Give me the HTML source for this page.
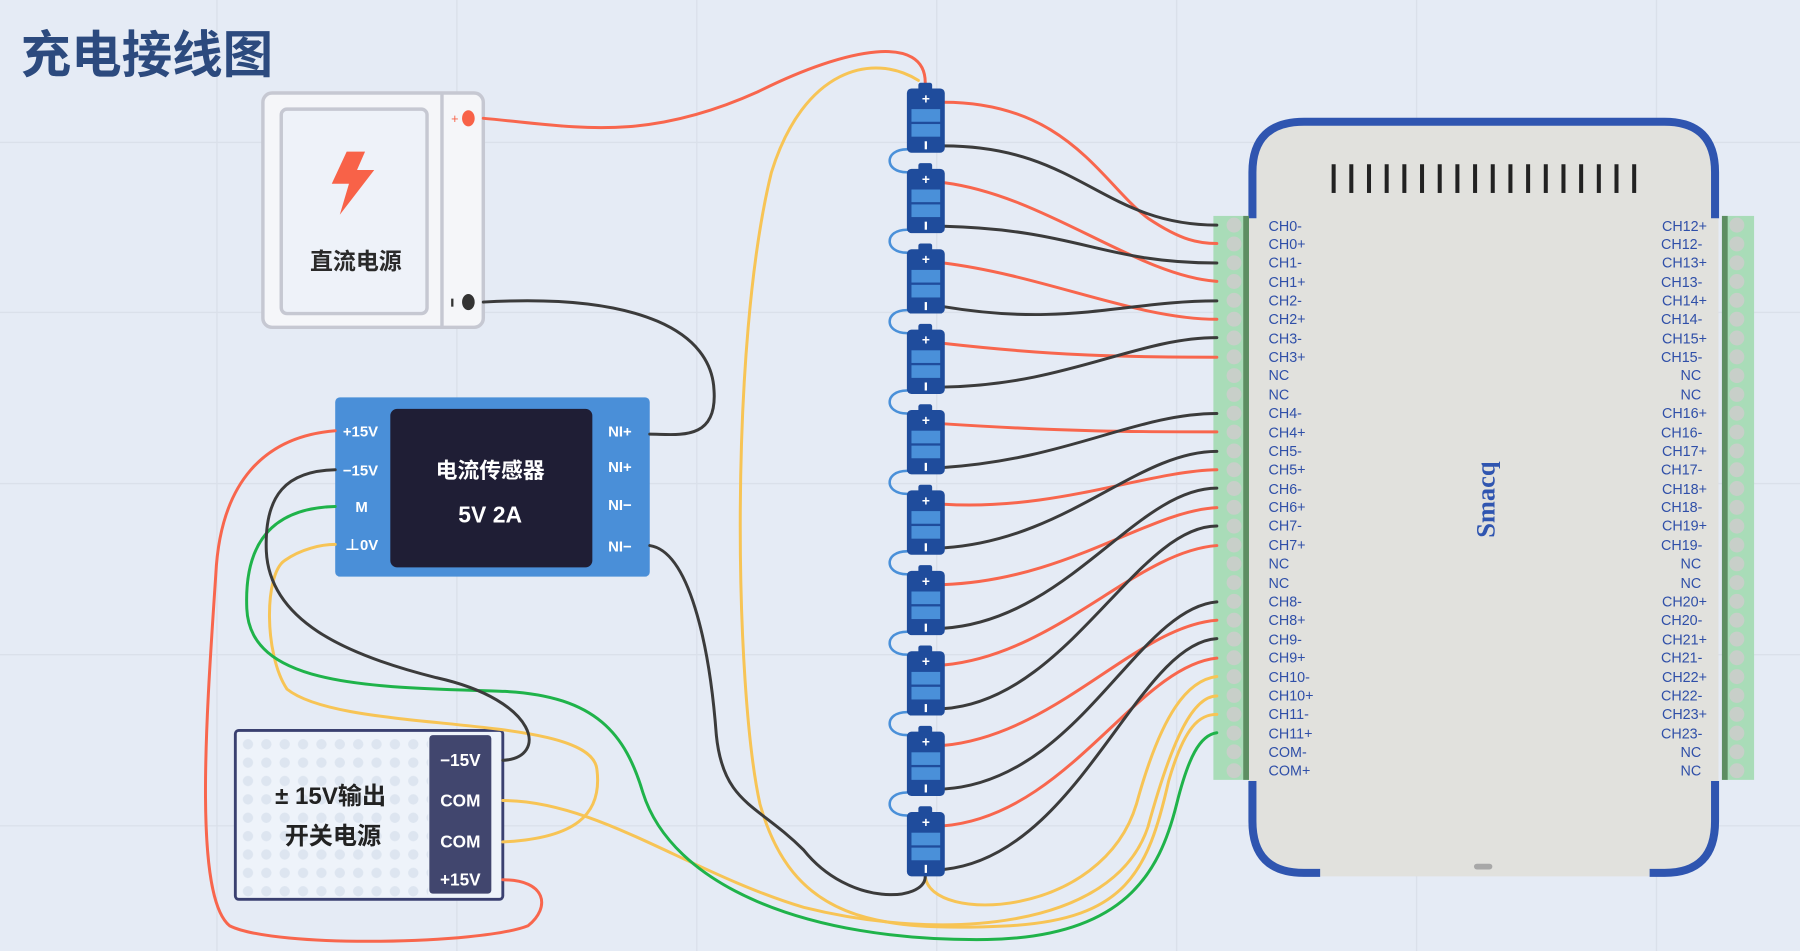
<!DOCTYPE html>
<html><head><meta charset="utf-8">
<style>
html,body{margin:0;padding:0;background:#e5ebf5;}
svg{display:block;}
text{font-family:"Liberation Sans","Noto Sans CJK SC",sans-serif;}
</style></head><body>
<svg width="1800" height="951" viewBox="0 0 1568 828" preserveAspectRatio="none" xmlns="http://www.w3.org/2000/svg">
<defs>
<pattern id="dots" width="16" height="16" patternUnits="userSpaceOnUse"><circle cx="8" cy="8" r="4.5" fill="#dde5f0"/></pattern>
<g id="bat">
<rect x="-6" y="-5" width="12" height="8" rx="2" fill="#1f4c9c"/>
<rect x="-16" y="0" width="33" height="56" rx="4" fill="#1f4c9c"/>
<rect x="-12" y="18" width="25" height="11" fill="#4a90d9"/>
<rect x="-12" y="31" width="25" height="11" fill="#4a90d9"/>
<text x="0.5" y="13" font-size="12" fill="#fff" text-anchor="middle" font-weight="bold">+</text>
<rect x="-0.5" y="46" width="2" height="7" fill="#fff"/>
</g>
</defs>
<rect width="1568" height="828" fill="#e5ebf5"/>
<g stroke="#dae0ea" stroke-width="1.2">
<line x1="189" y1="0" x2="189" y2="828"/><line x1="398" y1="0" x2="398" y2="828"/><line x1="607" y1="0" x2="607" y2="828"/><line x1="816" y1="0" x2="816" y2="828"/><line x1="1025" y1="0" x2="1025" y2="828"/><line x1="1234" y1="0" x2="1234" y2="828"/><line x1="1443" y1="0" x2="1443" y2="828"/>
<line x1="0" y1="124" x2="1568" y2="124"/><line x1="0" y1="272" x2="1568" y2="272"/><line x1="0" y1="421" x2="1568" y2="421"/><line x1="0" y1="570" x2="1568" y2="570"/><line x1="0" y1="719" x2="1568" y2="719"/>
</g>
<text x="18" y="63" font-size="44" font-weight="bold" fill="#2c4a7e">充电接线图</text>

<rect x="229" y="81" width="192" height="204" rx="8" fill="#f5f6f9" stroke="#c6c8d2" stroke-width="3"/>
<line x1="385" y1="82" x2="385" y2="284" stroke="#c6c8d2" stroke-width="3"/>
<rect x="245" y="95" width="127" height="178" rx="5" fill="#eef2f9" stroke="#c6c8d2" stroke-width="3"/>
<polygon points="302,132 289,160 304,160 296,187 326,148 311,148 318,132" fill="#f86248"/>
<text x="310" y="234" font-size="20" font-weight="bold" fill="#2a2a2a" text-anchor="middle">直流电源</text>
<ellipse cx="408" cy="103" rx="5.5" ry="7" fill="#f86248"/>
<text x="393" y="107" font-size="11" fill="#f86248">+</text>
<ellipse cx="408" cy="263" rx="5.5" ry="7" fill="#333"/>
<rect x="393" y="260" width="2" height="7" fill="#333"/>

<rect x="292" y="346" width="274" height="156" rx="4" fill="#4a8fd8"/>
<rect x="340" y="356" width="176" height="138" rx="6" fill="#1f1e35"/>
<g font-size="13" font-weight="bold" fill="#fff" text-anchor="middle">
<text x="314" y="380">+15V</text><text x="314" y="414">−15V</text><text x="315" y="446">M</text><text x="315" y="479">⊥0V</text>
<text x="540" y="380">NI+</text><text x="540" y="411">NI+</text><text x="540" y="444">NI−</text><text x="540" y="480">NI−</text>
</g>
<text x="427" y="416" font-size="19" font-weight="bold" fill="#fff" text-anchor="middle">电流传感器</text>
<text x="427" y="455" font-size="20" font-weight="bold" fill="#fff" text-anchor="middle">5V  2A</text>

<rect x="205" y="636" width="233" height="147" rx="3" fill="#eef3fa" stroke="#3a4070" stroke-width="2.5"/>
<rect x="207" y="638" width="166" height="143" fill="url(#dots)"/>
<rect x="374" y="640" width="54" height="138" rx="3" fill="#41466e"/>
<g font-size="15" font-weight="bold" fill="#fff" text-anchor="middle">
<text x="401" y="667">−15V</text><text x="401" y="702">COM</text><text x="401" y="738">COM</text><text x="401" y="771">+15V</text>
</g>
<text x="288" y="700" font-size="21" font-weight="bold" fill="#222" text-anchor="middle">± 15V输出</text>
<text x="290" y="735" font-size="21" font-weight="bold" fill="#222" text-anchor="middle">开关电源</text>

<rect x="1088" y="103" width="409" height="660" rx="48" fill="#e1e1dd"/>
<path d="M1091 190 V150 Q1091 106 1136 106 H1450 Q1494 106 1494 150 V190" fill="none" stroke="#2f55b0" stroke-width="7"/>
<path d="M1091 680 V715 Q1091 760 1136 760 H1150 M1437 760 H1450 Q1494 760 1494 715 V680" fill="none" stroke="#2f55b0" stroke-width="7"/>
<rect x="1284" y="752" width="16" height="5" rx="2.5" fill="#a8a8a8"/>
<g fill="#222">
<rect x="1160" y="143" width="3.5" height="25"/><rect x="1175.4" y="143" width="3.5" height="25"/><rect x="1190.8" y="143" width="3.5" height="25"/><rect x="1206.2" y="143" width="3.5" height="25"/><rect x="1221.6" y="143" width="3.5" height="25"/><rect x="1237" y="143" width="3.5" height="25"/><rect x="1252.4" y="143" width="3.5" height="25"/><rect x="1267.8" y="143" width="3.5" height="25"/><rect x="1283.2" y="143" width="3.5" height="25"/><rect x="1298.6" y="143" width="3.5" height="25"/><rect x="1314" y="143" width="3.5" height="25"/><rect x="1329.4" y="143" width="3.5" height="25"/><rect x="1344.8" y="143" width="3.5" height="25"/><rect x="1360.2" y="143" width="3.5" height="25"/><rect x="1375.6" y="143" width="3.5" height="25"/><rect x="1391" y="143" width="3.5" height="25"/><rect x="1406.4" y="143" width="3.5" height="25"/><rect x="1421.8" y="143" width="3.5" height="25"/>
</g>
<text transform="translate(1302,435) rotate(-90)" font-size="23" font-weight="bold" fill="#2f55b0" text-anchor="middle" style="font-family:'Liberation Serif',serif">Smacq</text>

<rect x="1057" y="188" width="31" height="491" fill="#a9dcb8"/>
<rect x="1083" y="188" width="5" height="491" fill="#5d8e62"/>
<rect x="1500" y="188" width="28" height="491" fill="#a9dcb8"/>
<rect x="1500" y="188" width="5" height="491" fill="#5d8e62"/>
<g fill="#c8cfc9">
<circle cx="1075" cy="196" r="6.5"/><circle cx="1075" cy="212.4" r="6.5"/><circle cx="1075" cy="228.8" r="6.5"/><circle cx="1075" cy="245.1" r="6.5"/><circle cx="1075" cy="261.5" r="6.5"/><circle cx="1075" cy="277.9" r="6.5"/><circle cx="1075" cy="294.3" r="6.5"/><circle cx="1075" cy="310.7" r="6.5"/><circle cx="1075" cy="327" r="6.5"/><circle cx="1075" cy="343.4" r="6.5"/><circle cx="1075" cy="359.8" r="6.5"/><circle cx="1075" cy="376.2" r="6.5"/><circle cx="1075" cy="392.6" r="6.5"/><circle cx="1075" cy="409" r="6.5"/><circle cx="1075" cy="425.3" r="6.5"/><circle cx="1075" cy="441.7" r="6.5"/><circle cx="1075" cy="458.1" r="6.5"/><circle cx="1075" cy="474.5" r="6.5"/><circle cx="1075" cy="490.9" r="6.5"/><circle cx="1075" cy="507.2" r="6.5"/><circle cx="1075" cy="523.6" r="6.5"/><circle cx="1075" cy="540" r="6.5"/><circle cx="1075" cy="556.4" r="6.5"/><circle cx="1075" cy="572.7" r="6.5"/><circle cx="1075" cy="589.1" r="6.5"/><circle cx="1075" cy="605.5" r="6.5"/><circle cx="1075" cy="621.9" r="6.5"/><circle cx="1075" cy="638.3" r="6.5"/><circle cx="1075" cy="654.6" r="6.5"/><circle cx="1075" cy="671" r="6.5"/>
<circle cx="1513" cy="196" r="6.5"/><circle cx="1513" cy="212.4" r="6.5"/><circle cx="1513" cy="228.8" r="6.5"/><circle cx="1513" cy="245.1" r="6.5"/><circle cx="1513" cy="261.5" r="6.5"/><circle cx="1513" cy="277.9" r="6.5"/><circle cx="1513" cy="294.3" r="6.5"/><circle cx="1513" cy="310.7" r="6.5"/><circle cx="1513" cy="327" r="6.5"/><circle cx="1513" cy="343.4" r="6.5"/><circle cx="1513" cy="359.8" r="6.5"/><circle cx="1513" cy="376.2" r="6.5"/><circle cx="1513" cy="392.6" r="6.5"/><circle cx="1513" cy="409" r="6.5"/><circle cx="1513" cy="425.3" r="6.5"/><circle cx="1513" cy="441.7" r="6.5"/><circle cx="1513" cy="458.1" r="6.5"/><circle cx="1513" cy="474.5" r="6.5"/><circle cx="1513" cy="490.9" r="6.5"/><circle cx="1513" cy="507.2" r="6.5"/><circle cx="1513" cy="523.6" r="6.5"/><circle cx="1513" cy="540" r="6.5"/><circle cx="1513" cy="556.4" r="6.5"/><circle cx="1513" cy="572.7" r="6.5"/><circle cx="1513" cy="589.1" r="6.5"/><circle cx="1513" cy="605.5" r="6.5"/><circle cx="1513" cy="621.9" r="6.5"/><circle cx="1513" cy="638.3" r="6.5"/><circle cx="1513" cy="654.6" r="6.5"/><circle cx="1513" cy="671" r="6.5"/>
</g>
<g font-size="12.5" fill="#2f4fa8">
<text x="1105" y="201">CH0-</text><text x="1105" y="217">CH0+</text><text x="1105" y="233">CH1-</text><text x="1105" y="250">CH1+</text><text x="1105" y="266">CH2-</text><text x="1105" y="282">CH2+</text><text x="1105" y="299">CH3-</text><text x="1105" y="315">CH3+</text><text x="1105" y="331">NC</text><text x="1105" y="348">NC</text><text x="1105" y="364">CH4-</text><text x="1105" y="381">CH4+</text><text x="1105" y="397">CH5-</text><text x="1105" y="413">CH5+</text><text x="1105" y="430">CH6-</text><text x="1105" y="446">CH6+</text><text x="1105" y="462">CH7-</text><text x="1105" y="479">CH7+</text><text x="1105" y="495">NC</text><text x="1105" y="512">NC</text><text x="1105" y="528">CH8-</text><text x="1105" y="544">CH8+</text><text x="1105" y="561">CH9-</text><text x="1105" y="577">CH9+</text><text x="1105" y="594">CH10-</text><text x="1105" y="610">CH10+</text><text x="1105" y="626">CH11-</text><text x="1105" y="643">CH11+</text><text x="1105" y="659">COM-</text><text x="1105" y="675">COM+</text>
</g>
<g font-size="12.5" fill="#2f4fa8" text-anchor="end">
<text x="1487" y="201">CH12+</text><text x="1483" y="217">CH12-</text><text x="1487" y="233">CH13+</text><text x="1483" y="250">CH13-</text><text x="1487" y="266">CH14+</text><text x="1483" y="282">CH14-</text><text x="1487" y="299">CH15+</text><text x="1483" y="315">CH15-</text><text x="1482" y="331">NC</text><text x="1482" y="348">NC</text><text x="1487" y="364">CH16+</text><text x="1483" y="381">CH16-</text><text x="1487" y="397">CH17+</text><text x="1483" y="413">CH17-</text><text x="1487" y="430">CH18+</text><text x="1483" y="446">CH18-</text><text x="1487" y="462">CH19+</text><text x="1483" y="479">CH19-</text><text x="1482" y="495">NC</text><text x="1482" y="512">NC</text><text x="1487" y="528">CH20+</text><text x="1483" y="544">CH20-</text><text x="1487" y="561">CH21+</text><text x="1483" y="577">CH21-</text><text x="1487" y="594">CH22+</text><text x="1483" y="610">CH22-</text><text x="1487" y="626">CH23+</text><text x="1483" y="643">CH23-</text><text x="1482" y="659">NC</text><text x="1482" y="675">NC</text>
</g>

<g fill="none" stroke-width="2.6" stroke-linecap="round">
<g stroke="#f7c455">
<path d="M800 70 C760 45 700 60 672 150 C635 300 640 600 662 700 C690 800 760 812 880 806 C980 800 1000 760 1018 680 C1032 632 1045 622 1060 622"/>
<path d="M438 697 C520 697 600 760 700 790 C820 820 970 810 1000 720 C1022 640 1040 606 1060 606"/>
<path d="M806 763 C810 805 960 800 990 700 C1012 620 1035 592 1060 589"/>
<path d="M438 733 C500 730 525 710 520 670 C515 620 300 640 250 600 C230 570 230 500 248 488 C262 478 280 474 292 474"/>
</g>
<path stroke="#1fb34a" d="M292 441 C250 442 212 460 215 530 C218 600 330 598 440 602 C520 606 545 640 560 690 C585 770 700 820 860 818 C980 816 1010 760 1025 700 C1035 660 1045 640 1060 638"/>
<g stroke="#4a90d9" stroke-width="2.2">
<path d="M790 130 C770 130 770 150 790 150"/><path d="M790 200 C770 200 770 220 790 220"/><path d="M790 270 C770 270 770 290 790 290"/><path d="M790 340 C770 340 770 360 790 360"/><path d="M790 410 C770 410 770 430 790 430"/><path d="M790 480 C770 480 770 500 790 500"/><path d="M790 550 C770 550 770 570 790 570"/><path d="M790 620 C770 620 770 640 790 640"/><path d="M790 690 C770 690 770 710 790 710"/>
</g>
<g stroke="#f8664d">
<path d="M421 103 C500 110 560 125 660 80 C740 40 806 30 806 72"/>
<path d="M292 375 C230 380 192 420 188 500 C180 620 168 780 200 806 C240 826 420 822 460 806 C480 790 476 766 438 766"/>
<path d="M822 89 C930 89 960 160 1000 190 C1030 210 1045 212 1060 212"/>
<path d="M822 159 C910 170 990 240 1060 245"/>
<path d="M822 229 C910 240 990 278 1060 278"/>
<path d="M822 299 C920 310 980 311 1060 311"/>
<path d="M822 369 C930 376 990 376 1060 376"/>
<path d="M822 439 C920 445 1000 410 1060 409"/>
<path d="M822 509 C930 505 1000 445 1060 442"/>
<path d="M822 579 C920 570 990 480 1060 475"/>
<path d="M822 649 C920 640 990 545 1060 540"/>
<path d="M822 719 C930 710 990 580 1060 573"/>
</g>
<g stroke="#3b3b3b">
<path d="M421 263 C560 255 620 290 622 340 C625 385 590 378 566 378"/>
<path d="M566 475 C600 480 618 560 624 640 C630 700 660 700 700 740 C740 790 806 785 806 763"/>
<path d="M292 409 C250 410 230 430 232 480 C235 540 300 570 380 590 C470 610 478 660 438 662"/>
<path d="M822 127 C940 127 960 196 1060 196"/>
<path d="M822 197 C940 200 960 229 1060 229"/>
<path d="M822 267 C930 285 980 262 1060 262"/>
<path d="M822 337 C930 335 990 294 1060 294"/>
<path d="M822 407 C930 400 990 360 1060 360"/>
<path d="M822 477 C930 470 990 393 1060 393"/>
<path d="M822 547 C930 540 990 425 1060 425"/>
<path d="M822 617 C930 610 990 458 1060 458"/>
<path d="M822 687 C940 680 990 530 1060 524"/>
<path d="M822 757 C940 745 990 560 1060 556"/>
</g>
</g>

<use href="#bat" x="806" y="77"/><use href="#bat" x="806" y="147"/><use href="#bat" x="806" y="217"/><use href="#bat" x="806" y="287"/><use href="#bat" x="806" y="357"/><use href="#bat" x="806" y="427"/><use href="#bat" x="806" y="497"/><use href="#bat" x="806" y="567"/><use href="#bat" x="806" y="637"/><use href="#bat" x="806" y="707"/>
</svg>
</body></html>
